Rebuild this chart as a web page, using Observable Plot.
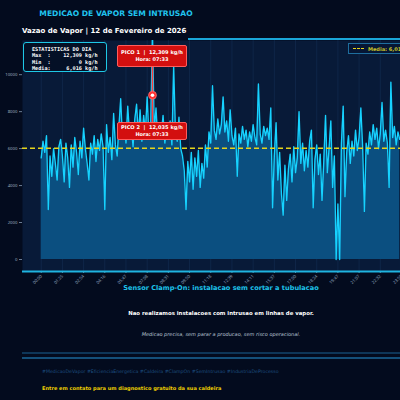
<!DOCTYPE html>
<html>
<head>
<meta charset="utf-8">
<script src="https://cdn.jsdelivr.net/npm/d3@7"></script>
<script src="https://cdn.jsdelivr.net/npm/@observablehq/plot@0.6"></script>
<style>
  html, body { margin: 0; padding: 0; background: #030b1e; }
  #wrap { position: relative; width: 400px; height: 400px; overflow: hidden; background: #030b1e; font-family: "DejaVu Sans", sans-serif; }
  .abs { position: absolute; white-space: nowrap; }
  #wrap svg { position: absolute; left: 0; top: 0; overflow: visible; }
  .peak-box { position: absolute; background: #d30f0f; border: 1px solid #ff5c5c; border-radius: 2px; box-sizing: border-box;
    color: #fff; font-weight: bold; text-align: center; display: flex; flex-direction: column; justify-content: center; white-space: nowrap; }
  .stats { position: absolute; border: 1px solid #1ec8e6; border-radius: 3px; background: #041026; box-sizing: border-box;
    color: #fff; font-family: "DejaVu Sans Mono", monospace; font-weight: bold; font-size: 5.2px; line-height: 6.4px; white-space: pre; padding: 3px 0 0 8px; }
  .legend { position: absolute; border: 1px solid #1e6e9e; background: #061634; box-sizing: border-box; }
</style>
</head>
<body>
<div id="wrap"></div>
<script>
// Steam flow readings over the day (kg/h), one every ~7 minutes
const flow = [
  5500, 6400, 5800, 6700, 2700, 5600, 4500, 6000, 5200, 4300, 6100, 6500,
  5600, 4200, 6300, 5500, 3900, 6200, 5000, 6600, 5800, 4600, 6400, 5500,
  7100, 6000, 5200, 4300, 6300, 5700, 6700, 5300, 6500, 5900, 6800, 6100,
  2700, 7300, 5800, 6600, 5400, 7900, 6200, 5600, 7200, 8700, 6500, 7400,
  6300, 8300, 6800, 7200, 6100, 7600, 8400, 6700, 8100, 6400, 7800, 6900,
  8800, 6600, 7300, 12309, 7000, 8200, 6500, 7400, 6800, 7800, 6300, 7100,
  6600, 7500, 6200, 10500, 6900, 6400, 7700, 6000, 5600, 4800, 2700, 5300,
  4200, 5800, 3800, 5500, 4500, 5900, 3900, 5200, 4400, 6200, 5000, 6900,
  6300, 9400, 7000, 6500, 7600, 6800, 7300, 8800, 6900, 7500, 6400, 8100,
  6700, 6200, 7100, 4500, 6800, 6300, 7200, 6500, 7000, 6100, 6900, 6400,
  7300, 6600, 6200, 9500, 6800, 6300, 7200, 6700, 7100, 6500, 8200, 2800,
  5600, 7400, 4300, 5800, 3600, 2400, 5100, 3200, 4900, 5700, 4200, 6100,
  4700, 5500, 8000, 5200, 6300, 4800, 5900, 5000, 6400, 7000, 2800, 5400,
  6200, 4600, 5700, 3200, 5300, 7800, 4700, 6000, 7500, 3900, 5600, 0,
  3000, 0, 6300, 8300, 3400, 5800, 6700, 5200, 6400, 5600, 7000, 5900,
  6600, 8200, 6100, 2600, 6300, 5700, 6900, 6200, 7300, 6500, 7100, 6000,
  6800, 8500, 6400, 7000, 6300, 3900, 9600, 6600, 7200, 6200, 6900, 6500
];

// Clock labels shown under every 12th reading
const tickLabels = [
  "00:00", "01:25", "02:54", "04:16", "05:47", "07:08", "08:31", "09:50", "11:18",
  "12:39", "14:11", "15:37", "17:00", "18:24", "19:47", "21:07", "22:32", "23:55"
];
const pointsPerTick = 12;

const yTicks = [0, 2000, 4000, 6000, 8000, 10000];

// Daily statistics
const statMax = 12309;
const statMin = 0;
const statMean = 6016;

// Peak annotations
const peakIndex = 63;
const peaks = [
  { name: "PICO 1", value: 12309, time: "07:33", labelValue: 11000, h: 22 },
  { name: "PICO 2", value: 12035, time: "07:33", labelValue: 6900, h: 18 }
];

const hashtags = ["#MedicaoDeVapor", "#EficienciaEnergetica", "#Caldeira", "#ClampOn", "#SemIntrusao", "#IndustriaDeProcesso"];

const title = "MEDICAO DE VAPOR SEM INTRUSAO";
const subtitle = "Vazao de Vapor  |  12 de Fevereiro de 2026";
const headline = "Sensor Clamp-On: instalacao sem cortar a tubulacao";
const line1 = "Nao realizamos instalacoes com intrusao em linhas de vapor.";
const line2 = "Medicao precisa, sem parar a producao, sem risco operacional.";
const cta = "Entre em contato para um diagnostico gratuito da sua caldeira";

const yDomain = [-650, 11850];
const xDomain = [-10.6, 203.45];

const data = flow.map((v, i) => ({ i, v }));
const tickIdx = tickLabels.map((_, k) => k * pointsPerTick);
const fmt = d3.format(",");

const chart = Plot.plot({
  width: 400,
  height: 295,
  marginTop: 40,
  marginBottom: 24,
  marginLeft: 22,
  marginRight: 0,
  style: { background: "transparent", overflow: "visible" },
  x: { domain: xDomain, label: null },
  y: { domain: yDomain, label: null },
  marks: [
    Plot.frame({ fill: "#081a38", stroke: null }),
    Plot.gridX(tickIdx, { stroke: "#1c3c68", strokeOpacity: 0.35 }),
    Plot.areaY(data, { x: "i", y: "v", fill: "#0b4f80", clip: true }),
    Plot.lineY(data, { x: "i", y: "v", stroke: "#16d2ff", strokeWidth: 1.35, clip: true }),
    Plot.ruleY([statMean], { stroke: "#e6d41a", strokeWidth: 1.4, strokeDasharray: "5,3" }),
    Plot.ruleX([peakIndex], { y1: peaks[0].labelValue, y2: peaks[1].labelValue, stroke: "#ff3a3a", strokeWidth: 1.5 }),
    Plot.dot([{ i: peakIndex, v: 0.75 * yDomain[1] }], { x: "i", y: "v", r: 4, fill: "#ff3030", stroke: "#ff8080", strokeWidth: 0.6 }),
    Plot.dot([{ i: peakIndex, v: 0.75 * yDomain[1] }], { x: "i", y: "v", r: 1.8, fill: "#ffffff" }),
    Plot.axisY(yTicks, { label: null, tickSize: 3, tickPadding: 2, fontSize: 4.3, fill: "#9aa8bc", stroke: "#6b7d96", tickFormat: d => String(d) }),
    Plot.axisX(tickIdx, { label: null, tickSize: 2, tickPadding: 2, fontSize: 4.3, fill: "#8fa3bf", stroke: "#6b7d96", tickRotate: -45,
      tickFormat: d => tickLabels[Math.round(d / pointsPerTick)] }),
    Plot.ruleY([yDomain[0]], { stroke: "#1fb4e0", strokeWidth: 2 })
  ]
});

const wrap = document.getElementById("wrap");
wrap.appendChild(chart);

const xs = chart.scale("x");
const ys = chart.scale("y");

function addText(txt, css) {
  const d = document.createElement("div");
  d.className = "abs";
  d.textContent = txt;
  Object.assign(d.style, css);
  wrap.appendChild(d);
  return d;
}

// Header
addText(title, { left: "116px", top: "9px", transform: "translateX(-50%)", color: "#20c4ef", fontWeight: "bold", fontSize: "7.6px", lineHeight: "10px" });
addText(subtitle, { left: "22px", top: "26px", color: "#ffffff", fontWeight: "bold", fontSize: "7px", lineHeight: "10px" });
const topLine = document.createElement("div");
Object.assign(topLine.style, { position: "absolute", left: "188px", top: "38px", width: "212px", height: "2px", background: "#1aa6d8" });
wrap.appendChild(topLine);

// Daily statistics box
const stats = document.createElement("div");
stats.className = "stats";
Object.assign(stats.style, { left: "23px", top: "42px", width: "84px", height: "30px" });
stats.textContent = [
  "ESTATISTICAS DO DIA",
  "Max  :" + fmt(statMax).padStart(10) + " kg/h",
  "Min  :" + fmt(statMin).padStart(10) + " kg/h",
  "Media:" + fmt(statMean).padStart(10) + " kg/h"
].join("\n");
wrap.appendChild(stats);

// Mean legend
const legend = document.createElement("div");
legend.className = "legend";
Object.assign(legend.style, { left: "348px", top: "43px", width: "70px", height: "11px" });
legend.innerHTML = '<div style="position:absolute;left:4px;top:4px;width:11px;height:0;border-top:1.4px dashed #e6d41a"></div>' +
  '<div style="position:absolute;left:19px;top:1px;font-size:5px;line-height:8px;font-weight:bold;color:#c9c228;white-space:nowrap">Media: ' + fmt(statMean) + ' kg/h</div>';
wrap.appendChild(legend);

// Peak boxes
const cx = xs.apply(peakIndex);
peaks.forEach(p => {
  const cy = ys.apply(p.labelValue);
  const b = document.createElement("div");
  b.className = "peak-box";
  Object.assign(b.style, { left: (cx - 35) + "px", top: (cy - p.h / 2) + "px", width: "70px", height: p.h + "px" });
  b.innerHTML = '<div style="font-size:5.1px;line-height:7px">' + p.name + '&nbsp;&nbsp;|&nbsp;&nbsp;' + fmt(p.value) + ' kg/h</div>' +
    '<div style="font-size:5px;line-height:7px">Hora: ' + p.time + '</div>';
  wrap.appendChild(b);
});

// Footer
addText(headline, { left: "221px", top: "283px", transform: "translateX(-50%)", color: "#1ec3ea", fontWeight: "bold", fontSize: "6.6px", lineHeight: "10px" });
addText(line1, { left: "221px", top: "309px", transform: "translateX(-50%)", color: "#ffffff", fontWeight: "bold", fontSize: "5.4px", lineHeight: "8px" });
addText(line2, { left: "221px", top: "330px", transform: "translateX(-50%)", color: "#b8c4d4", fontStyle: "italic", fontSize: "5px", lineHeight: "8px" });
[[352, "#0e3658"], [357, "#14507a"]].forEach(([t, c]) => {
  const l = document.createElement("div");
  Object.assign(l.style, { position: "absolute", left: "22px", top: t + "px", width: "378px", height: "2px", background: c });
  wrap.appendChild(l);
});
addText(hashtags.join("   "), { left: "42px", top: "369px", color: "#1d4e80", fontSize: "4.7px", lineHeight: "6px" });
addText(cta, { left: "42px", top: "384px", color: "#f0d000", fontWeight: "bold", fontSize: "5.05px", lineHeight: "8px" });
</script>
</body>
</html>
